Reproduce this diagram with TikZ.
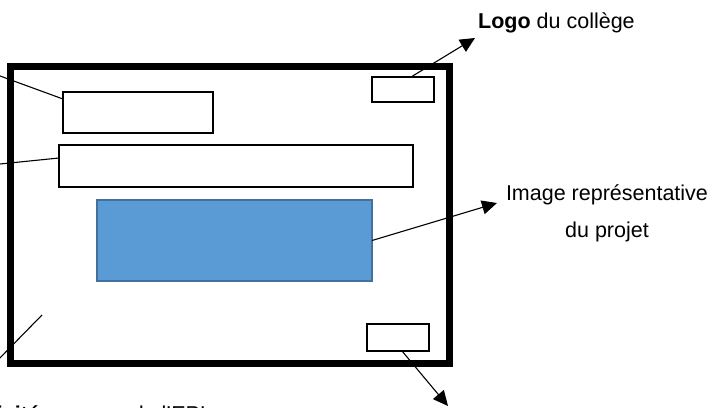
\documentclass[tikz,border=0pt]{standalone}
\usepackage{fontspec}
\setmainfont{Liberation Sans}
\usetikzlibrary{arrows.meta,calc}
\definecolor{imgfill}{HTML}{5B9BD5}
\definecolor{imgline}{HTML}{41719C}
\begin{document}
\begin{tikzpicture}[x=1pt,y=-1pt,
  frame/.style={draw=black,line width=7pt,inner sep=0pt,outer sep=0pt,fill=none},
  boxx/.style={draw=black,line width=2pt,inner sep=0pt,outer sep=0pt,fill=white},
  imgbox/.style={draw=imgline,line width=1.6pt,fill=imgfill,inner sep=0pt,outer sep=0pt},
  conn/.style={draw=black,line width=1.1pt},
  arr/.style={conn,-{Triangle[length=15pt,width=14pt]}},
  lbl/.style={inner sep=0pt,font=\fontsize{21.5}{25}\selectfont}]
\useasboundingbox (0,0) rectangle (712,407);
% frame and boxes
\node[frame,minimum width=439pt,minimum height=297pt] (fr) at (229.5,214.5) {};
\node[boxx,minimum width=150pt,minimum height=41pt] (b1) at (138,112.5) {};
\node[boxx,minimum width=354pt,minimum height=42pt] (b2) at (236,166) {};
\node[imgbox,minimum width=275pt,minimum height=81pt] (img) at (234.5,240.5) {};
\node[boxx,minimum width=62pt,minimum height=25pt] (logo) at (403,89.5) {};
\node[boxx,minimum width=62pt,minimum height=27pt] (br) at (398,337.5) {};
% labels
\node[lbl,anchor=base west] (tlogo) at (478,28) {\textbf{Logo} du collège};
\node[lbl,anchor=base] (timg1) at (607,200) {Image représentative};
\node[lbl,anchor=base] (timg2) at (607,237) {du projet};
\node[lbl,anchor=base west] (tbot) at (-38,421) {\textbf{Activité} au cœur de l'EPI};
% free ends
\coordinate (e1) at (-10,72.3);
\coordinate (e2) at (-10,165);
\coordinate (e3s) at (42,315);
\coordinate (e3) at (-6,364);
\coordinate (alogo) at (475,38);
\coordinate (aimg) at (497,203);
\coordinate (abr) at (448,406);
% connectors
\draw[conn] ([yshift=-7pt]b1.north west) -- (e1);
\draw[conn] ([yshift=8pt]b2.west) -- (e2);
\draw[conn] (e3s) -- (e3);
\draw[arr] ([xshift=8pt]logo.north) -- (alogo);
\draw[arr] (img.east) -- (aimg);
\draw[arr] ([xshift=4pt]br.south) -- (abr);
\end{tikzpicture}
\end{document}
